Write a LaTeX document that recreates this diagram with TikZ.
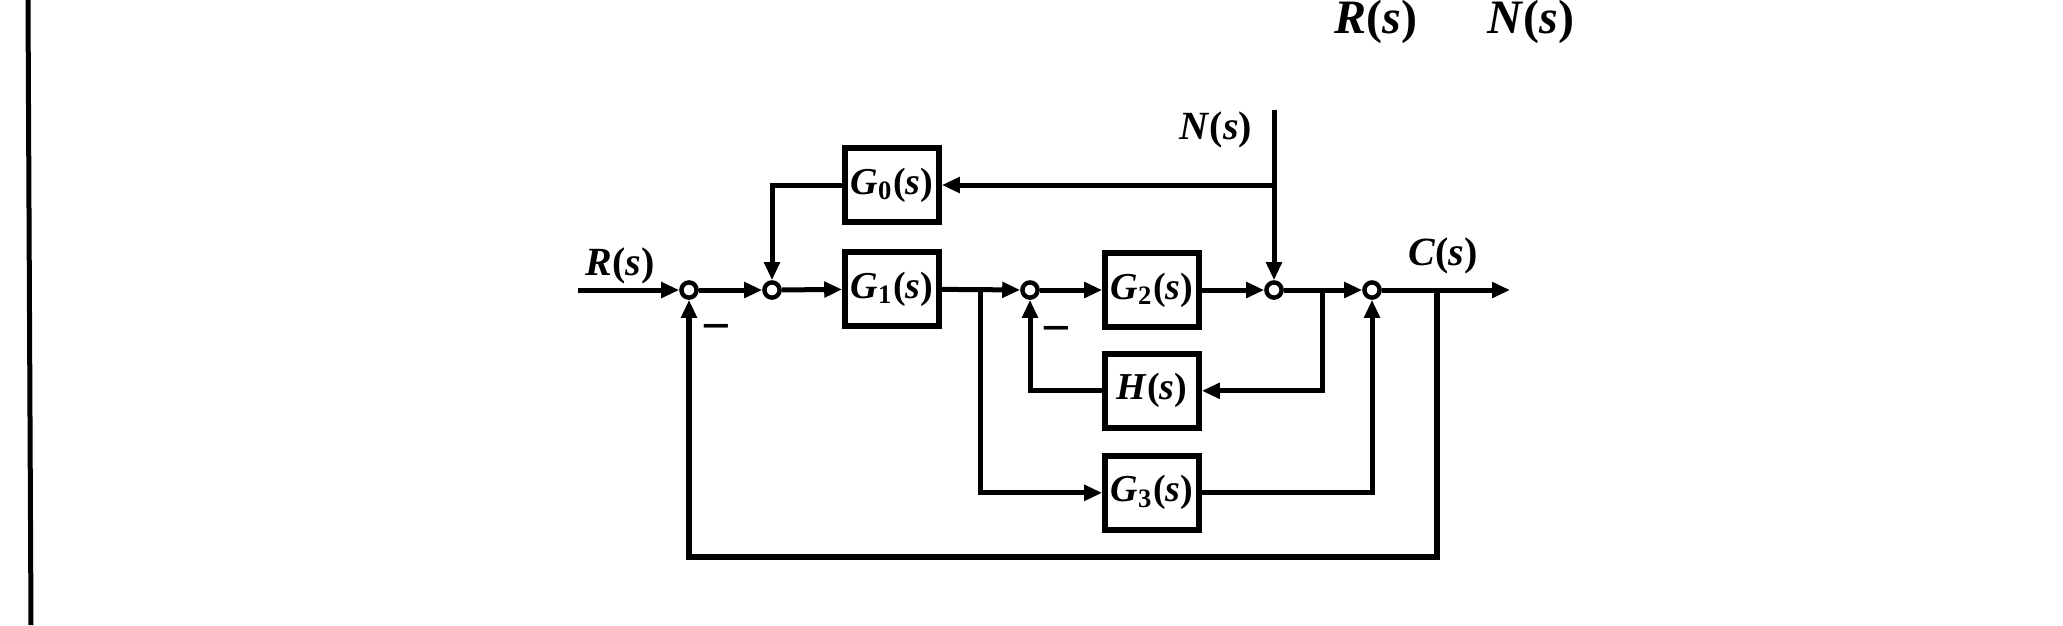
\documentclass[tikz,border=0pt]{standalone}
\usepackage{fontspec}
\setmainfont{Liberation Serif}
\usetikzlibrary{positioning,arrows.meta}

\begin{document}
\begin{tikzpicture}[x=0.25pt,y=-0.25pt,line width=1.25pt,
    block/.style={draw,line width=1.4pt,minimum width=23.5pt,minimum height=18.5pt,inner sep=0pt,font=\fontsize{9.5}{11}\selectfont\bfseries},
    junction/.style={draw,circle,line width=1.1pt,minimum size=3.8pt,inner sep=0pt},
    lbl/.style={font=\fontsize{10}{12}\selectfont\bfseries},
    minus/.style={font=\fontsize{13}{14}\selectfont\bfseries},
    >={Triangle[length=4.5pt,width=3.8pt]}]
                \useasboundingbox (0,0) rectangle (2063,625);
                \draw (28,0) -- (31,625);
                \node[lbl] (top r) at (1376,22) {\fontsize{12}{14}\selectfont\textit{R}(\textit{s})};
                \node[lbl] (top n) at (1531,22) {\fontsize{12}{14}\selectfont\textit{N}(\textit{s})};
                % main path
                \coordinate (in) at (578,290);
                \node[junction] (s1) at (689,290) {};
                \node[junction] (s2) at (772,290) {};
                \node[block] (g1) at (892,289) {\textit{G}\textsubscript{1}(\textit{s})};
                \node[block,above=6.1pt of g1] (g0) {\textit{G}\textsubscript{0}(\textit{s})};
                \node[junction] (s3) at (1030,290) {};
                \node[block] (g2) at (1152,290) {\textit{G}\textsubscript{2}(\textit{s})};
                \node[block,below=5.3pt of g2] (h) {\textit{H}(\textit{s})};
                \node[block,below=5.6pt of h] (g3) {\textit{G}\textsubscript{3}(\textit{s})};
                \node[junction] (s4) at (1274,290) {};
                \node[junction] (s5) at (1372,290) {};
                \coordinate (out) at (1510,290);
                \coordinate (b1) at (980,290);
                \coordinate (b2) at (1322,290);
                \coordinate (b3) at (1437,290);
                \coordinate (ntop) at (1274,110);
                \coordinate (fb) at (1437,557);
                % labels
                \node[lbl] (rl) at (620,266) {\textit{R}(\textit{s})};
                \node[lbl] (cl) at (1443,256) {\textit{C}(\textit{s})};
                \node[lbl,anchor=east] (nl) at (1268,130) {\textit{N}(\textit{s})};
                \node[minus] (m1) at (716,334) {−};
                \node[minus] (m3) at (1056,336) {−};
                % connections
                \draw[->] (in) -- (s1);
                \draw[->] (s1) -- (s2);
                \draw[->] (s2) -- (g1);
                \draw[->] (g1) -- (s3);
                \draw[->] (s3) -- (g2);
                \draw[->] (g2) -- (s4);
                \draw[->] (s4) -- (s5);
                \draw[->] (s5) -- (out);
                \draw[->] (ntop) -- (s4);
                \draw[->] (ntop |- g0) -- (g0);
                \draw[->] (g0) -| (s2);
                \draw[->] (b1) |- (g3);
                \draw[->] (b2) |- (h);
                \draw[->] (h) -| (s3);
                \draw[->] (g3) -| (s5);
                \draw[->,line width=1.5pt] (b3) -- (fb) -| (s1);
            \end{tikzpicture}
\end{document}
